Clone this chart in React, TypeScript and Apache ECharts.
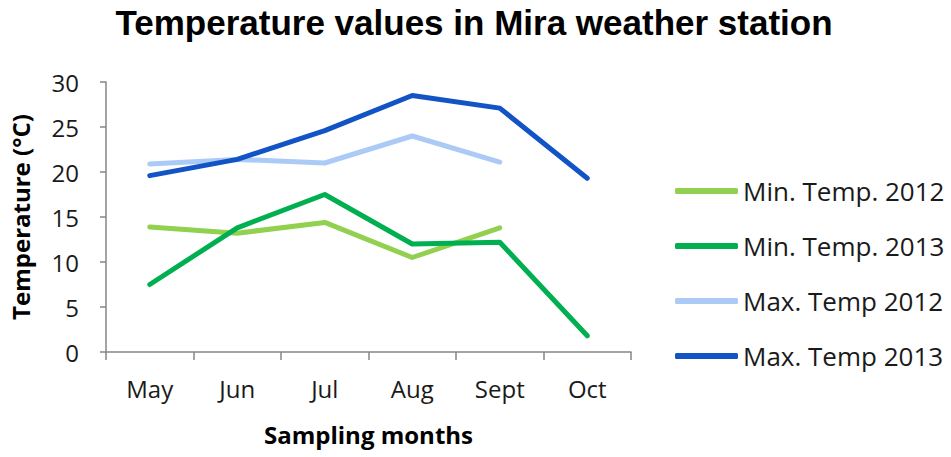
import React, { useEffect, useRef } from "react";
import * as echarts from "echarts";

const months = ["May", "Jun", "Jul", "Aug", "Sept", "Oct"];
const minTemp2012 = [13.9, 13.2, 14.4, 10.5, 13.8, null];
const minTemp2013 = [7.5, 13.8, 17.5, 12.0, 12.2, 1.8];
const maxTemp2012 = [20.9, 21.4, 21.0, 24.0, 21.1, null];
const maxTemp2013 = [19.6, 21.4, 24.6, 28.5, 27.1, 19.3];
const seriesNames = ["Min. Temp. 2012", "Min. Temp. 2013", "Max. Temp 2012", "Max. Temp 2013"];
const seriesColors = ["#92D050", "#00B050", "#ABCBF6", "#1254C6"];

export default function App() {
  const ref = useRef<HTMLDivElement>(null);
  useEffect(() => {
    if (!ref.current) return;
    const chart = echarts.init(ref.current, null, { renderer: "svg" });
    const dataSets = [minTemp2012, minTemp2013, maxTemp2012, maxTemp2013];
    const font = "'Open Sans', sans-serif";
    chart.setOption({
      animation: false,
      backgroundColor: "#ffffff",
      title: {
        text: "Temperature values in Mira weather station",
        left: 469,
        top: 0,
        textAlign: "center",
        textStyle: {
          fontFamily: "'Liberation Sans', Arial, sans-serif",
          fontWeight: "bold",
          fontSize: 35,
          color: "#000000",
        },
      },
      grid: { left: 100, right: 320, top: 82, bottom: 105, containLabel: false },
      legend: {
        orient: "vertical",
        left: 670,
        top: 173,
        itemWidth: 63,
        itemHeight: 6,
        itemGap: 29,
        icon: "roundRect",
        data: seriesNames,
        textStyle: { fontFamily: font, fontSize: 26, color: "#1a1a1a", lineHeight: 26 },
      },
      xAxis: {
        type: "category",
        data: months,
        boundaryGap: true,
        name: "Sampling months",
        nameLocation: "middle",
        nameGap: 70,
        nameTextStyle: { fontFamily: font, fontSize: 24, fontWeight: "bold", color: "#000" },
        axisLine: { lineStyle: { color: "#868686", width: 1.5 } },
        axisTick: { show: true, length: 8, alignWithLabel: false, lineStyle: { color: "#868686", width: 1.5 } },
        axisLabel: { fontFamily: font, fontSize: 24, color: "#1a1a1a", margin: 24 },
        splitLine: { show: false },
      },
      yAxis: {
        type: "value",
        min: 0,
        max: 30,
        interval: 5,
        name: "Temperature (°C)",
        nameLocation: "middle",
        nameGap: 74,
        nameTextStyle: { fontFamily: font, fontSize: 24, fontWeight: "bold", color: "#000" },
        axisLine: { show: true, lineStyle: { color: "#868686", width: 1.5 } },
        axisTick: { show: true, length: 6, lineStyle: { color: "#868686", width: 1.5 } },
        axisLabel: { fontFamily: font, fontSize: 24, color: "#1a1a1a", margin: 27 },
        splitLine: { show: false },
      },
      series: dataSets.map((d, i) => ({
        name: seriesNames[i],
        type: "line",
        data: d,
        symbol: "none",
        color: seriesColors[i],
        lineStyle: { width: 5, color: seriesColors[i], cap: "round", join: "round" },
      })),
    });
    return () => chart.dispose();
  }, []);
  return (
    <div
      ref={ref}
      style={{ position: "fixed", left: 0, top: 0, width: 951, height: 457 }}
    />
  );
}
